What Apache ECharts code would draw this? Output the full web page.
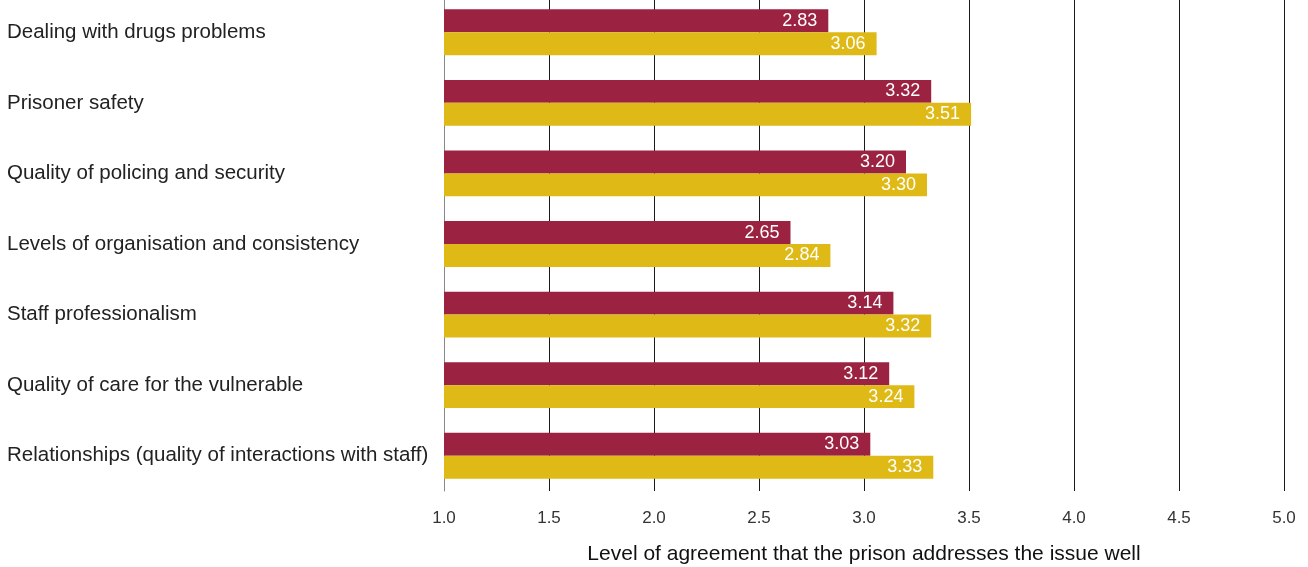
<!DOCTYPE html>
<html>
<head>
<meta charset="utf-8">
<script src="https://cdn.jsdelivr.net/npm/echarts@6/dist/echarts.min.js"></script>
<style>
  html, body { margin: 0; padding: 0; background: #fff; }
  #chart { width: 1308px; height: 567px; }
</style>
</head>
<body>
<div id="chart"></div>
<script>
// Survey issues, top to bottom
const categories = [
  'Dealing with drugs problems',
  'Prisoner safety',
  'Quality of policing and security',
  'Levels of organisation and consistency',
  'Staff professionalism',
  'Quality of care for the vulnerable',
  'Relationships (quality of interactions with staff)'
];
// Mean agreement scores for the two groups
const seriesA = [2.83, 3.32, 3.20, 2.65, 3.14, 3.12, 3.03];
const seriesB = [3.06, 3.51, 3.30, 2.84, 3.32, 3.24, 3.33];
const axisTitle = 'Level of agreement that the prison addresses the issue well';

const FONT = '"Liberation Sans", Arial, Helvetica, sans-serif';

const valueLabel = {
  show: true,
  position: 'insideRight',
  distance: 11,
  color: '#fff',
  fontSize: 18,
  fontFamily: FONT,
  formatter: p => p.value.toFixed(2)
};

const chart = echarts.init(document.getElementById('chart'), null, { renderer: 'canvas' });
chart.setOption({
  animation: false,
  backgroundColor: '#fff',
  grid: {
    left: 444, right: 24, top: -3, bottom: 76,
    containLabel: false,
    outerBoundsMode: 'none'
  },
  xAxis: {
    type: 'value',
    min: 1,
    max: 5,
    interval: 0.5,
    axisLine: { show: false },
    axisTick: { show: false },
    axisLabel: {
      color: '#333',
      fontSize: 17,
      fontFamily: FONT,
      margin: 19,
      formatter: v => v.toFixed(1)
    },
    splitLine: { show: true, showMinLine: false, lineStyle: { color: '#1a1a1a', width: 1 } },
    name: axisTitle,
    nameLocation: 'middle',
    nameGap: 53,
    nameTextStyle: { color: '#111', fontSize: 21, fontFamily: FONT }
  },
  yAxis: {
    type: 'category',
    data: categories,
    inverse: true,
    axisLine: { show: true, lineStyle: { color: '#888', width: 1 } },
    axisTick: { show: false },
    axisLabel: {
      align: 'left',
      margin: 437,
      color: '#222',
      fontSize: 20.5,
      fontFamily: FONT
    },
    splitLine: { show: false }
  },
  series: [
    {
      type: 'bar',
      data: seriesA,
      itemStyle: { color: '#9B2240' },
      barGap: '0%',
      barCategoryGap: '35%',
      label: valueLabel
    },
    {
      type: 'bar',
      data: seriesB,
      itemStyle: { color: '#DFBA16' },
      barGap: '0%',
      barCategoryGap: '35%',
      label: valueLabel
    }
  ]
});
</script>
</body>
</html>
